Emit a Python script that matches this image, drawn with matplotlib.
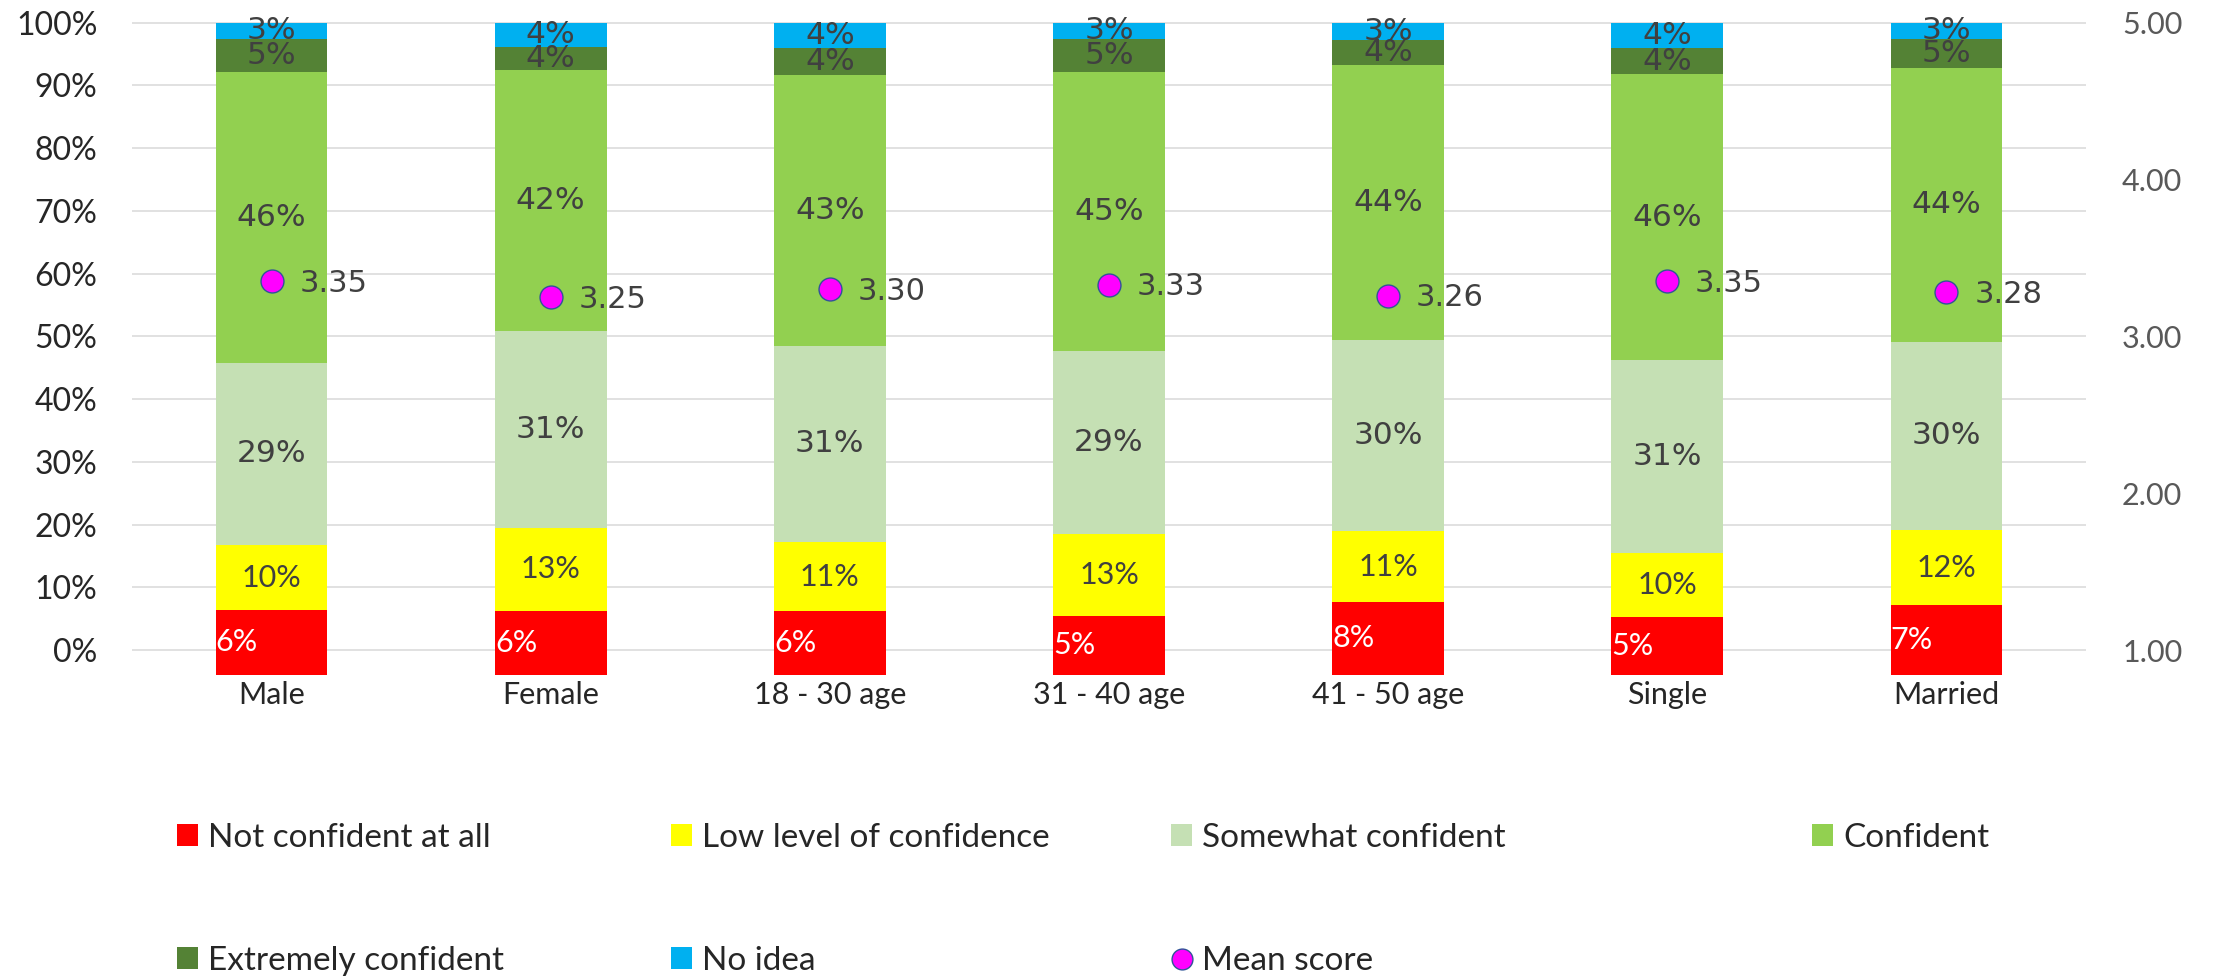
import matplotlib

matplotlib.use("Agg")
import matplotlib.pyplot as plt
from matplotlib.lines import Line2D
from matplotlib.patches import Patch

GROUPS = ["Male", "Female", "18 - 30 age", "31 - 40 age", "41 - 50 age", "Single", "Married"]

# share of respondents (%) giving each answer, one value per group
NOT_CONFIDENT = [6.4, 6.3, 6.2, 5.4, 7.6, 5.3, 7.1]
LOW_CONFIDENCE = [10.3, 13.1, 11.0, 13.1, 11.4, 10.1, 12.1]
SOMEWHAT = [29.1, 31.4, 31.3, 29.1, 30.4, 30.8, 29.9]
CONFIDENT = [46.4, 41.6, 43.2, 44.6, 43.9, 45.6, 43.7]
EXTREMELY = [5.2, 3.8, 4.3, 5.2, 3.9, 4.1, 4.6]
NO_IDEA = [2.6, 3.8, 4.0, 2.6, 2.8, 4.1, 2.6]

# mean score on the 1-5 scale (right axis)
MEAN_SCORE = [3.35, 3.25, 3.30, 3.33, 3.26, 3.35, 3.28]

SERIES = [
    ("Not confident at all", NOT_CONFIDENT, "#FF0000"),
    ("Low level of confidence", LOW_CONFIDENCE, "#FFFF00"),
    ("Somewhat confident", SOMEWHAT, "#C5E0B4"),
    ("Confident", CONFIDENT, "#92D050"),
    ("Extremely confident", EXTREMELY, "#548235"),
    ("No idea", NO_IDEA, "#00B0F0"),
]

FONT = "Lato"
WIDE = "DejaVu Sans"
FS = 22
FLOOR = -3.9      # bars are drawn down to the bottom of the plot area
TOP = 100.2
W, H = 2215, 977

fig = plt.figure(figsize=(W / 100, H / 100), dpi=100)
ax = fig.add_axes([132 / W, 1 - 674.5 / H, (2086 - 132) / W, (674.5 - 21.45) / H])
ax.set_xlim(-0.5, len(GROUPS) - 0.5)
ax.set_ylim(FLOOR, TOP)

for s in ax.spines.values():
    s.set_visible(False)
ax.set_yticks(range(0, 101, 10))
ax.set_yticklabels([f"{v}%" for v in range(0, 101, 10)], fontfamily=FONT, fontsize=23, color="#262626")
ax.tick_params(axis="y", length=0, pad=25)
ax.set_xticks(range(len(GROUPS)))
ax.set_xticklabels(GROUPS, fontfamily=FONT, fontsize=FS, color="#262626")
ax.tick_params(axis="x", length=0, pad=5)
ax.grid(axis="y", color="#D9D9D9", lw=1.1)
ax.set_axisbelow(True)

x = list(range(len(GROUPS)))
bar_w = 0.40
base = [0.0] * len(GROUPS)
for k, (name, vals, color) in enumerate(SERIES):
    if k == 0:
        bottoms = [FLOOR] * len(vals)
        heights = [v - FLOOR for v in vals]
    else:
        bottoms = base
        heights = vals
    ax.bar(x, heights, bottom=bottoms, width=bar_w, color=color, lw=0, zorder=2)
    for i, v in enumerate(vals):
        yc = bottoms[i] + heights[i] / 2
        if k == 0:
            ax.text(i - bar_w / 2, yc, f"{v:.0f}%", ha="left", va="center",
                    fontfamily=FONT, fontsize=FS, color="white", zorder=4)
        elif k == 1:
            ax.text(i, yc, f"{v:.0f}%", ha="center", va="center",
                    fontfamily=FONT, fontsize=FS, color="#404040", zorder=4)
        else:
            ax.text(i, yc, f"{v:.0f}%", ha="center", va="center",
                    fontfamily=WIDE, fontsize=22.5, color="#404040", zorder=4)
    base = [b + v for b, v in zip(base, vals)]

# mean score on a 1-5 axis aligned so that 1 sits on 0% and 5 on 100%
ax2 = ax.twinx()
ax2.set_ylim(1 + 4 * FLOOR / 100, 1 + 4 * TOP / 100)
for s in ax2.spines.values():
    s.set_visible(False)
ax2.set_yticks([1, 2, 3, 4, 5])
ax2.set_yticklabels([f"{v:.2f}" for v in [1, 2, 3, 4, 5]], fontfamily=FONT, fontsize=FS, color="#595959")
ax2.tick_params(axis="y", length=0, pad=26)
ax2.plot(x, MEAN_SCORE, ls="none", marker="o", ms=16.5, mfc="#FF00FF", mec="#2F5597", mew=1.0, zorder=5)
for i, m in enumerate(MEAN_SCORE):
    ax2.annotate(f"{m:.2f}", (i, m), xytext=(20, -1.5), textcoords="offset points",
                 ha="left", va="center", fontfamily=WIDE, fontsize=22, color="#404040")

# legend laid out as two rows of separate entries
handles = [Patch(facecolor=c, lw=0) for _, _, c in SERIES]
handles.append(Line2D([], [], ls="none", marker="o", ms=15, mfc="#FF00FF", mec="#2F5597", mew=1.0))
labels = [n for n, _, _ in SERIES] + ["Mean score"]
spots = [(177, 838), (671, 838), (1171, 838), (1812, 838), (177, 961), (671, 961), (1171, 961)]
for h, lab, (px, py) in zip(handles, labels, spots):
    fig.legend([h], [lab], loc="center left", bbox_to_anchor=(px / W, 1 - py / H),
               frameon=False, borderpad=0, borderaxespad=0, handlelength=0.63,
               handleheight=0.63, handletextpad=0.3,
               prop={"family": FONT, "size": 24}, labelcolor="#262626")

fig.savefig("out.png", dpi=100)
